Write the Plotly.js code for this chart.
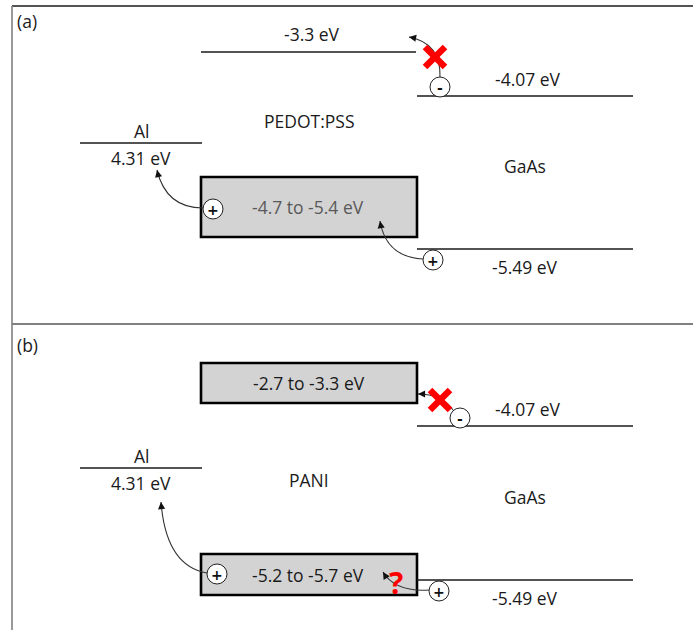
<!DOCTYPE html>
<html>
<head>
<meta charset="utf-8">
<script src="https://cdn.plot.ly/plotly-3.0.1.min.js"></script>
<style>html,body{margin:0;padding:0;background:#fff;}#chart{width:693px;height:630px;}</style>
</head>
<body>
<div id="chart"></div>
<script>
// ---- Data (energy-level labels, schematic diagram) ----
const panelLabels = ['(a)', '(b)'];
const metalNames = ['Al', 'Al'];
const metalWorkFunction = ['4.31 eV', '4.31 eV'];
const polymerNames = ['PEDOT:PSS', 'PANI'];
const polymerLUMO = ['-3.3 eV', '-2.7 to -3.3 eV'];
const polymerHOMO = ['-4.7 to -5.4 eV', '-5.2 to -5.7 eV'];
const semiNames = ['GaAs', 'GaAs'];
const semiCB = ['-4.07 eV', '-4.07 eV'];
const semiVB = ['-5.49 eV', '-5.49 eV'];

// ---- Schematic geometry (pixel space of the figure) ----
const FONT = 'Open Sans, Noto Sans, sans-serif';
const FS = 17.5;
const panelTop = [0, 324];
const geom = [
  { lumoBox: false, lumoY: 52, lumoTop: 0, lumoBot: 0, homoTop: 177, homoBot: 237,
    alY: 143, cbY: 96, vbY: 249, polyNameY: 121, semiNameY: 166,
    homoTextColor: '#595959', lumoTextY: 34 },
  { lumoBox: true, lumoY: 0, lumoTop: 363, lumoBot: 403, homoTop: 554, homoBot: 595,
    alY: 468, cbY: 426, vbY: 580, polyNameY: 480, semiNameY: 497,
    homoTextColor: '#1a1a1a', lumoTextY: 383 }
];
// charge markers: [cx, cy, sign]
const charges = [
  [[440, 87, '-'], [213, 209, '+'], [433, 260, '+']],
  [[460, 418, '-'], [217, 574, '+'], [439, 591, '+']]
];
// curved arrows: [x0,y0, cx,cy, x1,y1]
const arrows = [
  [[440, 77, 441, 43, 409, 37], [203, 208, 166, 208, 157, 170], [423, 259, 386, 257, 380, 221]],
  [[453, 410, 442, 394, 418, 394], [207, 573, 166, 566, 161, 502], [429, 590, 395, 592, 383, 572]]
];
const crosses = [[435, 57], [440, 400]];

const shapes = [];
const ann = [];
const txt = (x, y, t, opts = {}) => ann.push(Object.assign({
  x, y, xref: 'x', yref: 'y', text: t, showarrow: false,
  font: { family: FONT, size: FS, color: '#1a1a1a' }, xanchor: 'center', yanchor: 'middle'
}, opts));
const line = (x0, y0, x1, y1, color = '#1a1a1a', width = 1.6) =>
  shapes.push({ type: 'line', xref: 'x', yref: 'y', x0, y0, x1, y1, line: { color, width } });

// frame
line(12, 6, 693, 6, '#1a1a1a', 1.6);
line(12, 6, 12, 630, '#808080', 1.6);
line(12, 324, 693, 324, '#808080', 1.8);

for (let p = 0; p < 2; p++) {
  const g = geom[p];
  txt(15, panelTop[p] + 21, panelLabels[p], { xanchor: 'left', font: { family: FONT, size: FS, color: '#1a1a1a' } });
  // metal
  line(80, g.alY, 202, g.alY);
  txt(141, g.alY - 12, metalNames[p]);
  txt(141, g.alY + 15, metalWorkFunction[p]);
  // polymer LUMO
  if (g.lumoBox) {
    shapes.push({ type: 'rect', xref: 'x', yref: 'y', x0: 201, x1: 417, y0: g.lumoTop, y1: g.lumoBot,
      fillcolor: '#d3d3d3', line: { color: '#000', width: 2.6 } });
    txt(309, g.lumoTextY, polymerLUMO[p]);
  } else {
    line(201, g.lumoY, 416, g.lumoY);
    txt(312, g.lumoTextY, polymerLUMO[p]);
  }
  // polymer HOMO box
  shapes.push({ type: 'rect', xref: 'x', yref: 'y', x0: 201, x1: 417, y0: g.homoTop, y1: g.homoBot,
    fillcolor: '#d3d3d3', line: { color: '#000', width: 2.6 } });
  txt(308, (g.homoTop + g.homoBot) / 2, polymerHOMO[p], { font: { family: FONT, size: FS, color: g.homoTextColor } });
  txt(309, g.polyNameY, polymerNames[p]);
  // semiconductor
  line(417, g.cbY, 633, g.cbY);
  line(417, g.vbY, 633, g.vbY);
  txt(528, g.cbY - 17, semiCB[p]);
  txt(525, g.vbY + 18, semiVB[p]);
  txt(525, g.semiNameY, semiNames[p]);

  // curved arrows
  arrows[p].forEach(a => {
    const [x0, y0, cx, cy, x1, y1] = a;
    shapes.push({ type: 'path', xref: 'x', yref: 'y',
      path: `M ${x0} ${y0} Q ${cx} ${cy} ${x1} ${y1}`, line: { color: '#333', width: 1.1 } });
    const dx = cx - x1, dy = cy - y1, L = Math.hypot(dx, dy);
    ann.push({ x: x1, y: y1, ax: x1 + dx / L * 6, ay: y1 + dy / L * 6, axref: 'x', ayref: 'y',
      xref: 'x', yref: 'y', text: '', showarrow: true, arrowhead: 2, arrowsize: 1.3, arrowwidth: 1.1,
      arrowcolor: '#111', standoff: 0, startstandoff: 0 });
  });
  // charges
  charges[p].forEach(c => {
    const [cx, cy, s] = c, r = 10;
    shapes.push({ type: 'circle', xref: 'x', yref: 'y', x0: cx - r, x1: cx + r, y0: cy - r, y1: cy + r,
      fillcolor: '#fff', line: { color: '#222', width: 1 } });
    txt(cx, cy + 0.5, s === '-' ? '<b>-</b>' : '<b>+</b>',
      { font: { family: 'DejaVu Sans, sans-serif', size: 14, color: '#111' } });
  });
  // red cross
  const [xx, xy] = crosses[p], h = 10;
  line(xx - h, xy - h, xx + h, xy + h, '#ff0000', 6.5);
  line(xx - h, xy + h, xx + h, xy - h, '#ff0000', 6.5);
}
// question mark
txt(396, 582, '<b>?</b>', { font: { family: FONT, size: 30, color: '#ff0000' } });

const layout = {
  width: 693, height: 630,
  margin: { l: 0, r: 0, t: 0, b: 0 },
  paper_bgcolor: '#fff', plot_bgcolor: '#fff',
  xaxis: { range: [0, 693], visible: false, fixedrange: true },
  yaxis: { range: [630, 0], visible: false, fixedrange: true },
  showlegend: false,
  shapes, annotations: ann
};
Plotly.newPlot('chart', [{ x: [], y: [], type: 'scatter', mode: 'markers', hoverinfo: 'skip' }], layout,
  { staticPlot: true, displayModeBar: false });
</script>
</body>
</html>
